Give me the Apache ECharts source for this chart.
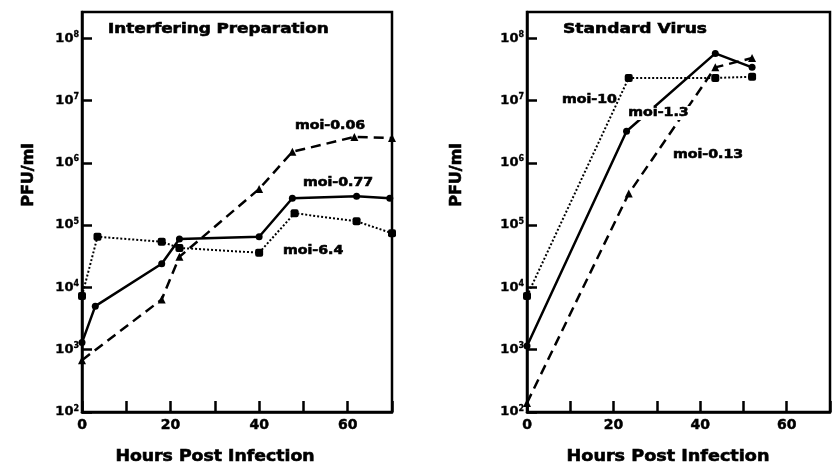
<!DOCTYPE html>
<html><head><meta charset="utf-8">
<script src="https://cdn.jsdelivr.net/npm/echarts@6/dist/echarts.min.js"></script>
<style>html,body{margin:0;padding:0;background:#fff}#c{width:833px;height:464px}</style>
</head><body><div id="c"></div>
<script>
// Left panel: Interfering Preparation
const hoursIntLow = [0, 18, 22, 40, 47.5, 61.5, 70];
const pfuIntLow = [680, 6400, 31000, 380000, 1500000, 2600000, 2500000];
const hoursIntMid = [0, 3, 18, 22, 40, 47.5, 62, 69.5];
const pfuIntMid = [1300, 5000, 24000, 60000, 65000, 270000, 290000, 270000];
const hoursIntHigh = [0, 3.5, 18, 22, 40, 48, 62, 70];
const pfuIntHigh = [7300, 65000, 54000, 43000, 36000, 155000, 115000, 74000];
// Right panel: Standard Virus
const hoursStdHigh = [0, 23.5, 43.5, 52];
const pfuStdHigh = [7300, 23000000, 23000000, 24000000];
const hoursStdMid = [0, 23, 43.5, 52];
const pfuStdMid = [1150, 3200000, 57000000, 34000000];
const hoursStdLow = [0, 23.5, 43.5, 52];
const pfuStdLow = [140, 320000, 34000000, 48000000];

const leftTitle = 'Interfering Preparation';
const rightTitle = 'Standard Virus';
const xName = 'Hours Post Infection';
const yName = 'PFU/ml';
const xTicks = [0, 20, 40, 60];
const leftLabels = ['moi-0.06', 'moi-0.77', 'moi-6.4'];
const rightLabels = ['moi-10', 'moi-1.3', 'moi-0.13'];

const FONT = 'DejaVu Sans';
const W = 'bold';
const zip = (a, b) => a.map((v, i) => [v, b[i]]);

function xAxis(gi) {
  return {
    type: 'value', gridIndex: gi, min: 0, max: 70, interval: 10,
    axisLine: {show: true, lineStyle: {color: '#000', width: 2.5}},
    axisTick: {show: true, inside: true, length: 11, lineStyle: {color: '#000', width: 2.5}},
    splitLine: {show: false},
    axisLabel: {
      color: '#000', fontSize: 14, fontWeight: W, fontFamily: FONT, margin: 6,
      textBorderColor: '#000', textBorderWidth: 0.5,
      formatter: v => xTicks.includes(v) ? String(v) : ''
    }
  };
}
function yAxis(gi) {
  return {
    type: 'log', logBase: 10, gridIndex: gi, min: 100, max: Math.pow(10, 8.42),
    axisLine: {show: true, lineStyle: {color: '#000', width: 2.5}},
    axisTick: {show: true, inside: true, length: 10, lineStyle: {color: '#000', width: 2.5}},
    splitLine: {show: false},
    axisLabel: {
      showMaxLabel: false, margin: 3,
      color: '#000', fontSize: 13, fontWeight: W, fontFamily: FONT,
      textBorderColor: '#000', textBorderWidth: 0.4,
      formatter: v => {
        const e = Math.log10(v);
        if (Math.abs(e - Math.round(e)) > 1e-6) return '';
        return '10{s|' + Math.round(e) + '}';
      },
      rich: {s: {fontSize: 8, fontWeight: W, fontFamily: FONT, color: '#000', textBorderColor: '#000', textBorderWidth: 0.3, padding: [0, 0, 7, 0]}}
    }
  };
}
function series(name, xi, hrs, vals, style) {
  const base = {
    name, type: 'line', xAxisIndex: xi, yAxisIndex: xi, data: zip(hrs, vals),
    symbolSize: 7, itemStyle: {color: '#000'}, silent: true, animation: false,
    lineStyle: {color: '#000', width: 2.5, type: 'solid'}
  };
  if (style === 'dash') { base.lineStyle.type = [10, 6]; base.symbol = 'triangle'; base.symbolSize = 8; }
  else if (style === 'dot') { base.lineStyle.type = [2, 2]; base.lineStyle.width = 2; base.symbol = 'roundRect'; base.symbolSize = 8; }
  else { base.symbol = 'circle'; }
  return base;
}
const txt = (x, y, text, size, sx, extra) => ({
  type: 'text', x, y, z: 100, scaleX: sx,
  style: Object.assign({text, fill: '#000', stroke: '#000', lineWidth: 0.6, fontSize: size, fontWeight: W, fontFamily: FONT, align: 'left', verticalAlign: 'middle'}, extra || {})
});

const chart = echarts.init(document.getElementById('c'), null, {renderer: 'canvas'});
chart.setOption({
  backgroundColor: '#fff',
  animation: false,
  grid: [
    {left: 82, top: 12, width: 310, height: 400, show: true, borderColor: '#000', borderWidth: 2.5, backgroundColor: 'transparent'},
    {left: 527, top: 12, width: 315, height: 400, show: true, borderColor: '#000', borderWidth: 2.5, backgroundColor: 'transparent'}
  ],
  xAxis: [xAxis(0), xAxis(1)],
  yAxis: [yAxis(0), yAxis(1)],
  series: [
    series(leftLabels[0], 0, hoursIntLow, pfuIntLow, 'dash'),
    series(leftLabels[1], 0, hoursIntMid, pfuIntMid, 'solid'),
    series(leftLabels[2], 0, hoursIntHigh, pfuIntHigh, 'dot'),
    series(rightLabels[0], 1, hoursStdHigh, pfuStdHigh, 'dot'),
    series(rightLabels[1], 1, hoursStdMid, pfuStdMid, 'solid'),
    series(rightLabels[2], 1, hoursStdLow, pfuStdLow, 'dash')
  ],
  graphic: [
    txt(108, 29, leftTitle, 14, 1.2),
    txt(563, 29, rightTitle, 14, 1.22),
    txt(215, 457, xName, 16, 1.08, {align: 'center'}),
    txt(668, 457, xName, 16, 1.1, {align: 'center'}),
    Object.assign(txt(29, 175, yName, 16, 1, {align: 'center'}), {rotation: Math.PI / 2}),
    Object.assign(txt(457, 175, yName, 16, 1, {align: 'center'}), {rotation: Math.PI / 2}),
    txt(295, 126, leftLabels[0], 12, 1.18),
    txt(303, 183, leftLabels[1], 12, 1.18),
    txt(283, 251, leftLabels[2], 12, 1.18),
    txt(562, 100, rightLabels[0], 12, 1.18),
    txt(626, 113, rightLabels[1], 12, 1.18, {backgroundColor: '#fff', padding: [1, 2]}),
    txt(673, 155, rightLabels[2], 12, 1.18)
  ]
});
</script></body></html>
